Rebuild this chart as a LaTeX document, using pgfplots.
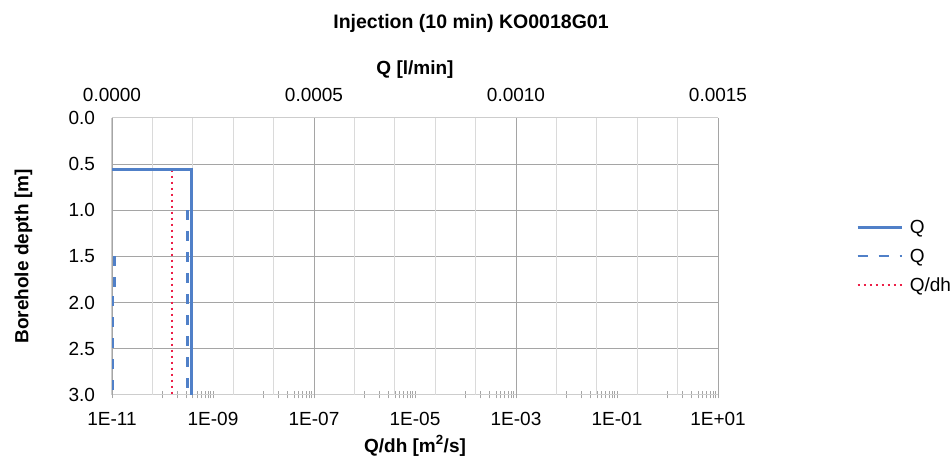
\documentclass[border=0pt]{standalone}
\usepackage{pgfplots}
\pgfplotsset{compat=1.18}
\usepackage{fontspec}
\setmainfont{Liberation Sans}
\definecolor{qblue}{RGB}{80,128,200}
\definecolor{qred}{RGB}{236,32,72}
\definecolor{gridmaj}{RGB}{165,165,165}
\definecolor{gridmin}{RGB}{218,218,218}
\definecolor{hgrid}{RGB}{165,165,165}
\definecolor{axgray}{RGB}{205,205,205}
\begin{document}
\begin{tikzpicture}[x=1bp,y=1bp]
\path[use as bounding box] (0,0) rectangle (951,459);
\pgfplotsset{
  chart/.style={
    width=606bp, height=277bp, scale only axis,
    at={(112bp,64bp)}, anchor=south west,
    font=\fontsize{19bp}{22bp}\selectfont,
    ymin=0, ymax=3, y dir=reverse,
    /pgf/number format/assume math mode=true,
    axis line style={axgray, line width=1bp},
    tick style={gridmaj, line width=0.8bp},
  }
}
% Q/dh on the logarithmic bottom axis, depth on the left
\begin{axis}[chart,
  xmode=log, log basis x=10, xmin=1e-11, xmax=1e1,
  xtick={1e-11,1e-9,1e-7,1e-5,1e-3,1e-1,1e1},
  xticklabels={1E-11,1E-09,1E-07,1E-05,1E-03,1E-01,1E+01},
  minor xtick={1e-10,2e-10,3e-10,4e-10,5e-10,6e-10,7e-10,8e-10,9e-10,
               1e-8,2e-8,3e-8,4e-8,5e-8,6e-8,7e-8,8e-8,9e-8,
               1e-6,2e-6,3e-6,4e-6,5e-6,6e-6,7e-6,8e-6,9e-6,
               1e-4,2e-4,3e-4,4e-4,5e-4,6e-4,7e-4,8e-4,9e-4,
               1e-2,2e-2,3e-2,4e-2,5e-2,6e-2,7e-2,8e-2,9e-2,
               1e0,2e0,3e0,4e0,5e0,6e0,7e0,8e0,9e0},
  tick align=center, major tick length=7bp, minor tick length=7bp,
  axis x line*=bottom, axis y line*=left,
  ytick={0,0.5,1,1.5,2,2.5,3},
  y tick style={draw=none},
  yticklabel style={/pgf/number format/.cd, fixed, fixed zerofill, precision=1, /tikz/.cd, xshift=-10bp},
  xticklabel style={yshift=-10bp},
  ymajorgrids, y grid style={hgrid, line width=1bp},
  xlabel={\bfseries Q/dh [m\textsuperscript{2}/s]},
  ylabel={\bfseries Borehole depth [m]},
  xlabel style={yshift=-3bp},
  ylabel style={at={(axis description cs:-0.146,0.5)}, anchor=center},
]
\addplot[qred, line width=2.2bp, dash pattern=on 2.2bp off 3.8bp]
  coordinates {(1.52e-10,0.56) (1.52e-10,3.0)};
\end{axis}
% Q on the linear top axis
\begin{axis}[chart,
  xmin=0, xmax=0.0015,
  xtick={0,0.0005,0.001,0.0015},
  minor x tick num=4,
  scaled x ticks=false,
  axis x line*=top, axis y line=none,
  major tick length=5bp, minor tick length=0pt,
  xticklabel style={/pgf/number format/.cd, fixed, fixed zerofill, precision=4, /tikz/.cd, yshift=13bp},
  xmajorgrids, xminorgrids,
  x grid style={gridmaj, line width=1bp},
  minor x grid style={gridmin, line width=1bp},
  xlabel={\bfseries Q [l/min]},
  xlabel style={yshift=3bp},
  legend style={draw=none, fill=none, at={(1.223,0.5)}, anchor=west,
    font=\fontsize{19bp}{22bp}\selectfont, row sep=10bp,
    /tikz/every odd column/.append style={column sep=5bp}},
  legend cell align=left,
  legend image code/.code={\draw[#1] (0bp,0bp) -- (44bp,0bp);},
]
\addplot[qblue, line width=2.5bp]
  coordinates {(0,0.56) (0.000197,0.56) (0.000197,3.0)};
\addlegendentry{Q}
\addplot[qblue, line width=2.5bp, dash pattern=on 10bp off 11bp]
  coordinates {(0.000187,1.0) (0.000187,3.0)};
\addlegendentry{Q}
\addplot[qblue, line width=2.5bp, dash pattern=on 10bp off 11bp, forget plot]
  coordinates {(0.000006,1.5) (0.000006,1.93)};
\addplot[qblue, line width=2.5bp, dash pattern=on 10bp off 11bp, forget plot]
  coordinates {(0.0000025,1.93) (0.0000025,3.0)};
\addlegendimage{qred, line width=2.2bp, dash pattern=on 2.2bp off 3.8bp}
\addlegendentry{Q/dh}
\end{axis}
\node[font=\fontsize{19.5bp}{22bp}\selectfont\bfseries] at (471,436) {Injection (10 min) KO0018G01};
\end{tikzpicture}
\end{document}
